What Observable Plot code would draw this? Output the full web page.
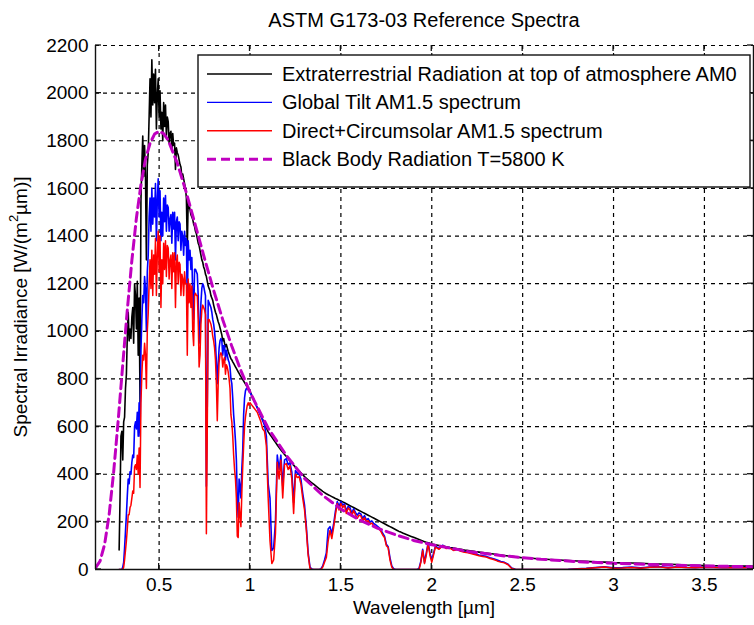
<!DOCTYPE html>
<html><head><meta charset="utf-8">
<script src="https://cdn.jsdelivr.net/npm/d3@7"></script>
<script src="https://cdn.jsdelivr.net/npm/@observablehq/plot@0.6"></script>
<style>
html,body{margin:0;padding:0;background:#fff;}
svg{display:block;}
</style></head><body><div id="chart"></div>
<script>
// ---------- DATA ----------
const wavelengthNm = [
280,285,290,295,300,305,310,315,320,325,330,335,340,345,350,355,360,365,370,375,380,385,390,395,
400,405,410,415,420,425,430,435,440,445,
450,455,460,465,470,475,480,485,490,495,
500,505,510,515,520,525,530,535,540,545,
550,555,560,565,570,575,580,585,590,595,
600,605,610,615,620,625,630,635,640,645,
650,655,660,665,670,675,680,685,690,695,
700,705,710,715,720,725,730,735,740,745,
750,755,760,765,770,775,780,785,790,795,
800,805,810,815,820,825,830,835,840,845,
850,855,860,865,870,875,880,885,890,895,
900,905,910,915,920,925,930,935,940,945,
950,955,960,965,970,975,980,985,990,995,1000,
1010,1020,1030,1040,1050,1060,1070,1080,1090,1100,
1110,1120,1130,1140,1150,1160,1170,1180,1190,1200,
1210,1220,1230,1240,1250,1260,1270,1280,1290,1300,
1310,1320,1330,1340,1350,1360,1370,1380,1390,1400,
1410,1420,1430,1440,1450,1460,1470,1480,1490,1500,
1510,1520,1530,1540,1550,1560,1570,1580,1590,1600,
1610,1620,1630,1640,1650,1660,1670,1680,1690,1700,
1710,1720,1730,1740,1750,1760,1770,1780,1790,1800,
1810,1820,1830,1840,1850,1860,1870,1880,1890,1900,
1910,1920,1930,1940,1950,1960,1970,1980,1990,2000,
2020,2040,2060,2080,2100,2120,2140,2160,2180,2200,
2220,2240,2260,2280,2300,2320,2340,2360,2380,2400,
2420,2440,2460,2480,2500,
2550,2600,2650,2700,2750,2800,2850,2900,2950,3000,
3050,3100,3150,3200,3250,3300,3350,3400,3450,3500,
3550,3600,3650,3700,3750,3800,3850,3900,3950,4000
];

const extraterrestrialAM0 = [
82,300,560,580,460,620,640,760,820,980,1080,960,1010,970,1060,1100,950,1200,1150,1010,1210,900,1140,700,
1550,1700,1820,1650,1780,1650,1300,1700,1750,1900,
2060,1900,2140,1950,2080,1960,2100,1850,1990,2060,
1900,2010,1850,1920,1800,1960,1860,1950,1820,1900,
1880,1790,1830,1840,1760,1830,1780,1790,1680,1770,
1750,1740,1720,1700,1690,1650,1660,1640,1620,1600,
1560,1350,1550,1530,1510,1490,1480,1470,1450,1440,
1420,1410,1390,1370,1360,1340,1320,1300,1290,1270,
1260,1240,1230,1210,1190,1180,1170,1150,1140,1130,
1110,1095,1080,1070,1055,1040,1030,1015,1000,985,
960,970,950,935,945,930,915,905,895,885,
880,872,865,858,851,844,837,830,823,816,
810,803,797,791,785,778,772,766,760,754,748,
731,714,697,680,663,646,629,612,595,578,
567,556,545,534,523,512,502,492,483,474,
465,456,447,438,430,422,414,406,398,390,
383,376,370,364,358,352,346,340,334,328,
323,318,314,310,306,302,298,295,291,288,
284,280,276,272,268,264,260,256,252,248,
244,240,236,232,228,224,220,216,212,208,
204,200,196,192,188,184,180,176,172,168,
164,160,157,153,150,147,144,141,138,135,
132,129,126,123,120,117,114,112,110,107,
104,101,98,95,92,90,87,85,82,80,
78,75,73,71,69,67,65,63,61,59,
57,55,53,51,49,
47,44,42,40,38,36,34,32,31,29,
28,27,26,24,23,22,21,19,18,17,
16,16,15,14,14,13,13,12,12,11
];

const globalTiltAM15 = [
0,0,0,0,10,30,90,160,230,310,380,360,410,400,450,480,470,600,620,590,660,560,700,560,
920,1050,1150,1120,1230,1180,1000,1250,1320,1480,
1560,1420,1600,1450,1560,1480,1620,1380,1550,1640,
1480,1590,1380,1500,1400,1560,1460,1570,1420,1530,
1520,1420,1470,1490,1370,1500,1430,1500,1300,1460,
1480,1380,1460,1450,1340,1420,1400,1320,1420,1360,
1390,1100,1380,1300,1340,1260,1310,1150,1050,1260,
1260,1250,1240,1150,950,1000,1120,1180,1200,1190,
1170,1150,350,700,1130,1120,1110,1100,1080,1050,
1030,1000,950,870,780,860,930,960,970,960,
900,940,940,880,920,900,880,870,850,800,
780,720,650,600,540,460,300,220,380,350,
300,420,500,650,720,750,760,760,755,750,745,
728,712,695,678,660,643,625,605,560,360,
300,80,90,200,480,420,480,350,460,465,
440,448,410,280,415,405,400,380,320,270,
180,70,10,2,0,0,0,0,2,15,
40,70,170,180,150,190,245,285,265,285,
270,276,245,265,260,236,255,240,228,238,
233,214,226,208,214,200,204,194,188,182,
176,166,152,140,106,96,50,15,3,0,
0,0,0,0,0,0,0,0,0,0,
0,0,5,35,85,30,70,112,70,40,
98,88,102,90,92,82,86,79,75,73,
69,65,61,58,55,49,45,40,34,30,
22,6,1,0,0,
0,0,0,0,1,3,5,8,11,7,
8,10,7,10,12,8,11,9,8,10,
9,8,9,8,8,7,7,7,6,6
];

const directCircumsolarAM15 = [
0,0,0,0,0,10,40,80,120,170,230,230,260,270,300,330,320,430,440,420,480,400,510,344,
700,820,900,880,950,900,760,1000,1075,1200,
1300,1180,1340,1150,1320,1240,1390,1150,1320,1420,
1250,1400,1100,1300,1200,1370,1260,1380,1230,1360,
1350,1220,1300,1320,1180,1330,1250,1330,1100,1290,
1320,1200,1290,1280,1150,1240,1220,1150,1250,1200,
1200,900,1220,1120,1200,1100,1190,1000,940,1150,
1160,1150,1150,1050,850,900,1030,1090,1110,1100,
1090,1070,150,600,1050,1050,1040,1030,1010,980,
960,930,880,780,625,780,870,900,910,900,
850,880,890,820,860,850,830,800,760,650,
620,560,480,420,380,300,140,134,280,230,
180,320,430,520,600,640,667,690,700,690,700,
690,680,670,660,640,620,590,580,520,300,
120,25,40,150,450,380,460,300,440,445,
420,436,380,235,400,386,390,360,300,250,
164,60,5,0,0,0,0,0,0,10,
30,50,120,164,130,176,230,277,250,277,
260,270,235,258,250,225,248,230,215,228,
225,205,218,200,205,190,195,185,180,175,
170,160,145,134,100,92,40,10,0,0,
0,0,0,0,0,0,0,0,0,0,
0,0,0,30,80,25,60,109,60,30,
94,85,100,88,90,80,84,76,72,70,
66,62,58,55,52,46,42,36,31,28,
20,4,0,0,0,
0,0,0,0,0,2,4,7,10,5,
6,8,5,9,11,6,10,8,7,9,
8,7,8,7,7,6,6,6,5,5
];

const blackBodyNm = [150,175,200,225,250,275,300,325,350,375,400,425,450,475,500,525,550,600,650,700,
750,800,850,900,950,1000,1100,1200,1300,1400,1500,1600,1700,1800,1900,2000,2200,2400,2600,2800,
3000,3250,3500,3750,4000];
const blackBody5800K = [7,35,105,230,410,627,861,1090,1297,1475,1616,1722,1789,1828,1840,1830,1802,1706,1581,1444,
1305,1172,1049,937,835,744,593,479,382,311,254,209,174,146,122,104,76,57,43,33,
26,20,15,12,9];

const xTicks = [0.5, 1, 1.5, 2, 2.5, 3, 3.5];
const yTicks = [0, 200, 400, 600, 800, 1000, 1200, 1400, 1600, 1800, 2000, 2200];
const xDomain = [0.15, 3.77];
const yDomain = [0, 2200];
const seriesNames = [
  "Extraterrestrial Radiation at top of atmosphere AM0",
  "Global Tilt AM1.5 spectrum",
  "Direct+Circumsolar AM1.5 spectrum",
  "Black Body Radiation T=5800 K"
];
const seriesColors = ["#000000", "#0000ff", "#ff0000", "#c000c0"];
const titleText = "ASTM G173-03 Reference Spectra";
const xLabel = "Wavelength [\u00b5m]";

// ---------- BUILD ----------
const n = Math.min(wavelengthNm.length, extraterrestrialAM0.length, globalTiltAM15.length, directCircumsolarAM15.length);
const spectra = d3.range(n).map(i => ({
  x: wavelengthNm[i] / 1000,
  am0: extraterrestrialAM0[i],
  glob: globalTiltAM15[i],
  direct: directCircumsolarAM15[i]
}));
const bb = blackBodyNm.map((w, i) => ({x: w / 1000, y: blackBody5800K[i]}));

const FONT = "'Liberation Sans', Arial, Helvetica, sans-serif";
const gridStyle = {stroke: "#000", strokeOpacity: 1, strokeWidth: 1.2, strokeDasharray: "4,4"};

const plot = Plot.plot({
  width: 754,
  height: 625,
  marginLeft: 95,
  marginRight: 1,
  marginTop: 45,
  marginBottom: 56,
  style: {fontFamily: FONT, fontSize: "19px", background: "#fff", color: "#000", overflow: "visible"},
  x: {domain: xDomain},
  y: {domain: yDomain},
  marks: [
    Plot.gridX(xTicks, gridStyle),
    Plot.gridY(yTicks, gridStyle),
    Plot.line(spectra, {x: "x", y: "am0", stroke: seriesColors[0], strokeWidth: 1.6, clip: true}),
    Plot.line(spectra, {x: "x", y: "glob", stroke: seriesColors[1], strokeWidth: 1.6, clip: true}),
    Plot.line(spectra, {x: "x", y: "direct", stroke: seriesColors[2], strokeWidth: 1.5, clip: true}),
    Plot.line(bb, {x: "x", y: "y", stroke: seriesColors[3], strokeWidth: 3, strokeDasharray: "9,5", clip: true}),
    Plot.axisX(xTicks, {tickSize: 0, tickPadding: 8, tickFormat: d => String(d), label: null}),
    Plot.axisY(yTicks, {tickSize: 0, tickPadding: 7, tickFormat: d => String(d), label: null}),
    Plot.ruleX([xDomain[0], xDomain[1]], {stroke: "#111", strokeWidth: 1.4}),
    Plot.ruleY([yDomain[0]], {stroke: "#111", strokeWidth: 1.4})
  ]
});
document.getElementById("chart").appendChild(plot);

// ---------- inward ticks, legend, titles ----------
const svg = d3.select(plot);
const sx = plot.scale("x"), sy = plot.scale("y");
const [xl, xr] = sx.range;
const [yb, yt] = sy.range;
const tk = svg.append("g").attr("stroke", "#111").attr("stroke-width", 1.3);
xTicks.forEach(t => {
  const px = sx.apply(t);
  tk.append("line").attr("x1", px).attr("x2", px).attr("y1", yb).attr("y2", yb - 6);
  tk.append("line").attr("x1", px).attr("x2", px).attr("y1", yt).attr("y2", yt + 6);
});
yTicks.forEach(t => {
  const py = sy.apply(t);
  tk.append("line").attr("x1", xl).attr("x2", xl + 6).attr("y1", py).attr("y2", py);
  tk.append("line").attr("x1", xr).attr("x2", xr - 6).attr("y1", py).attr("y2", py);
});

// legend
const lg = svg.append("g").attr("font-family", FONT).attr("font-size", 20).attr("fill", "#000")
  .attr("text-anchor", "start");
lg.append("rect").attr("x", 198).attr("y", 55).attr("width", 552).attr("height", 132)
  .attr("fill", "#fff").attr("stroke", "#111").attr("stroke-width", 1.4);
seriesNames.forEach((name, i) => {
  const y = 74 + i * 28.4;
  lg.append("line").attr("x1", 207).attr("x2", 272).attr("y1", y).attr("y2", y)
    .attr("stroke", seriesColors[i]).attr("stroke-width", i === 3 ? 3 : 1.4)
    .attr("stroke-dasharray", i === 3 ? "9,5" : null);
  lg.append("text").attr("x", 282).attr("y", y).attr("text-anchor", "start")
    .attr("dominant-baseline", "central").text(name);
});

// title and axis labels
const txt = svg.append("g").attr("font-family", FONT).attr("fill", "#000");
txt.append("text").attr("x", (xl + xr) / 2).attr("y", 20).attr("text-anchor", "middle")
  .attr("dominant-baseline", "central").attr("font-size", 20).text(titleText);
txt.append("text").attr("x", (xl + xr) / 2).attr("y", 607).attr("text-anchor", "middle")
  .attr("dominant-baseline", "central").attr("font-size", 19).text(xLabel);
const yl = txt.append("text").attr("transform", `translate(20,${(yb + yt) / 2}) rotate(-90)`)
  .attr("text-anchor", "middle").attr("dominant-baseline", "central").attr("font-size", 19);
yl.append("tspan").text("Spectral Irradiance [W/(m");
yl.append("tspan").attr("font-size", 13).attr("dy", -7).text("2");
yl.append("tspan").attr("dy", 7).text("\u00b5m)]");
</script>
</body></html>
